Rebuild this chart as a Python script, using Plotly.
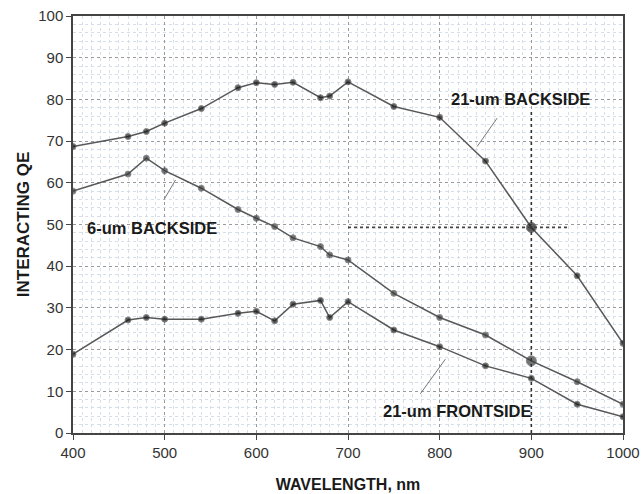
import plotly.graph_objects as go

wavelength = [400, 460, 480, 500, 540, 580, 600, 620, 640, 670, 680, 700, 750, 800, 850, 900, 950, 1000]
qe_21um_back = [68.7, 71.1, 72.3, 74.3, 77.8, 82.8, 84.0, 83.6, 84.1, 80.4, 80.8, 84.2, 78.3, 75.7, 65.2, 49.3, 37.7, 21.5]
qe_6um_back = [58.0, 62.1, 65.9, 62.9, 58.7, 53.6, 51.5, 49.5, 46.8, 44.7, 42.7, 41.5, 33.5, 27.7, 23.5, 17.3, 12.3, 6.9]
qe_21um_front = [18.9, 27.1, 27.7, 27.3, 27.3, 28.7, 29.2, 26.9, 30.9, 31.8, 27.7, 31.5, 24.7, 20.7, 16.1, 13.1, 6.9, 3.9]

x_ticks = [400, 500, 600, 700, 800, 900, 1000]
y_ticks = [0, 10, 20, 30, 40, 50, 60, 70, 80, 90, 100]

FONT = "Liberation Sans, Arial, sans-serif"


def sizes(xs, big_at=None):
    return [10 if (big_at is not None and x == big_at) else 6 for x in xs]


fig = go.Figure()
series = [
    ("21-um BACKSIDE", qe_21um_back, "#1a1a1a", 900),
    ("6-um BACKSIDE", qe_6um_back, "#3a3a3a", 900),
    ("21-um FRONTSIDE", qe_21um_front, "#1a1a1a", None),
]
for name, ys, mcol, big in series:
    fig.add_trace(go.Scatter(
        x=wavelength, y=ys, name=name, mode="lines+markers",
        line=dict(color="#585858", width=1.5),
        marker=dict(color=mcol, size=sizes(wavelength, big)),
        showlegend=False,
    ))

# reference lines at 900 nm
fig.add_shape(type="line", xref="x", yref="y", x0=700, x1=940, y0=49.3, y1=49.3,
              line=dict(color="#444444", width=1.8, dash="dot"))
fig.add_shape(type="line", xref="x", yref="y", x0=900, x1=900, y0=0, y1=77,
              line=dict(color="#333333", width=1.6, dash="dot"))

# labels with leader lines
labels = [
    ("21-um BACKSIDE", 888, 80.0, 862.7, 75.5, 840.9, 68.7),
    ("6-um BACKSIDE", 486.6, 49.2, 511.9, 60.7, 499.1, 55.9),
    ("21-um FRONTSIDE", 819.3, 5.3, 806.2, 17.7, 778.9, 9.4),
]
for text, tx, ty, lx0, ly0, lx1, ly1 in labels:
    fig.add_annotation(x=tx, y=ty, xref="x", yref="y", text=f"<b>{text}</b>",
                       showarrow=False, font=dict(family=FONT, size=16.5, color="#1a1a1a"))
    fig.add_shape(type="line", xref="x", yref="y", x0=lx0, y0=ly0, x1=lx1, y1=ly1,
                  line=dict(color="#777777", width=1))

fig.update_layout(
    width=643, height=494,
    margin=dict(l=73, r=20, t=16, b=61),
    paper_bgcolor="white", plot_bgcolor="white",
    font=dict(family=FONT, size=15, color="#333333"),
    xaxis=dict(
        range=[400, 1000], tickvals=x_ticks, ticktext=[str(v) for v in x_ticks],
        automargin=False,
        showgrid=True, gridcolor="#9a9a9a", griddash="dot", gridwidth=1,
        minor=dict(dtick=10, showgrid=True, gridcolor="#d6dfe9", griddash="dot"),
        showline=True, linecolor="#444444", linewidth=1.5, mirror=True,
        ticks="outside", ticklen=5, tickcolor="#444444",
        zeroline=False,
        title=dict(text="<b>WAVELENGTH, nm</b>", font=dict(family=FONT, size=16, color="#1a1a1a"), standoff=19),
    ),
    yaxis=dict(
        range=[0, 100], tickvals=y_ticks, ticktext=[str(v) for v in y_ticks],
        automargin=False,
        showgrid=True, gridcolor="#9a9a9a", griddash="dot", gridwidth=1,
        minor=dict(dtick=2, showgrid=True, gridcolor="#d6dfe9", griddash="dot"),
        showline=True, linecolor="#444444", linewidth=1.5, mirror=True,
        ticks="outside", ticklen=5, tickcolor="#444444",
        zeroline=False,
        title=dict(text="<b>INTERACTING QE</b>", font=dict(family=FONT, size=17, color="#1a1a1a"), standoff=4),
    ),
)

fig.write_html("out.html")
